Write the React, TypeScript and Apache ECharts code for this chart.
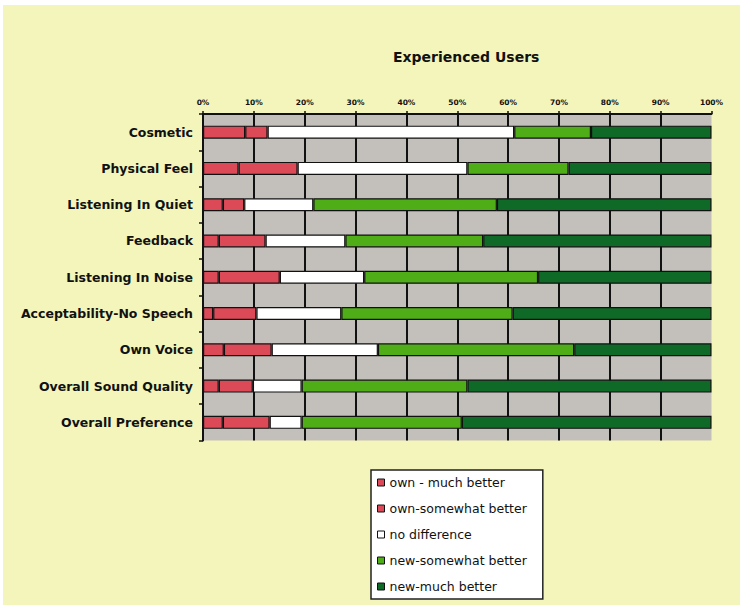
import React, { useEffect, useRef } from 'react';
import * as echarts from 'echarts';

const categories = [
  'Cosmetic',
  'Physical Feel',
  'Listening In Quiet',
  'Feedback',
  'Listening In Noise',
  'Acceptability-No Speech',
  'Own Voice',
  'Overall Sound Quality',
  'Overall Preference',
];
const ownMuchBetter = [8.3, 7.0, 3.9, 3.1, 3.1, 2.0, 4.1, 3.1, 3.9];
const ownSomewhatBetter = [4.4, 11.6, 4.2, 9.2, 12.0, 8.5, 9.4, 6.7, 9.2];
const noDifference = [48.5, 33.4, 13.6, 15.7, 16.6, 16.7, 20.9, 9.6, 6.3];
const newSomewhatBetter = [15.1, 19.9, 36.1, 27.1, 34.2, 33.7, 38.6, 32.6, 31.5];
const newMuchBetter = [23.7, 28.1, 42.2, 44.9, 34.1, 39.1, 27.0, 48.0, 49.1];
const seriesNames = [
  'own - much better',
  'own-somewhat better',
  'no difference',
  'new-somewhat better',
  'new-much better',
];
const seriesColors = ['#dc4a58', '#dc4a58', '#ffffff', '#4fae18', '#0e6a26'];
const chartTitle = 'Experienced Users';

export default function App() {
  const ref = useRef<HTMLDivElement>(null);
  useEffect(() => {
    document.body.style.margin = '0';
    const chart = echarts.init(ref.current!, null, { renderer: 'svg' });
    const values = [ownMuchBetter, ownSomewhatBetter, noDifference, newSomewhatBetter, newMuchBetter];
    const font = '"DejaVu Sans", Verdana, sans-serif';
    chart.setOption({
      animation: false,
      backgroundColor: '#f4f5bb',
      title: {
        text: chartTitle,
        left: 385,
        top: 40,
        textStyle: { fontFamily: font, fontWeight: 'bold', fontSize: 14, color: '#111' },
      },
      grid: {
        left: 200,
        right: 28.5,
        top: 109,
        bottom: 164.5,
        show: true,
        backgroundColor: '#c3bfbb',
        borderWidth: 0,
      },
      legend: {
        orient: 'vertical',
        left: 368,
        top: 465,
        data: seriesNames,
        icon: 'rect',
        backgroundColor: '#ffffff',
        borderColor: '#222',
        borderWidth: 1.5,
        padding: [6, 16, 6, 6],
        itemWidth: 7,
        itemHeight: 7,
        itemGap: 13,
        itemStyle: { borderColor: '#111', borderWidth: 1 },
        textStyle: { fontFamily: font, fontSize: 12.5, color: '#111', lineHeight: 13 },
        selectedMode: false,
      },
      xAxis: {
        type: 'value',
        position: 'top',
        min: 0,
        max: 100,
        interval: 10,
        axisLine: { show: true, lineStyle: { color: '#111', width: 2 } },
        axisTick: { show: true, length: 3, lineStyle: { color: '#111', width: 1.5 } },
        axisLabel: {
          formatter: '{value}%',
          fontFamily: font,
          fontWeight: 'bold',
          fontSize: 7.5,
          color: '#111',
          margin: 8,
        },
        splitLine: { show: true, showMaxLine: false, lineStyle: { color: '#111', width: 2 } },
      },
      yAxis: {
        type: 'category',
        data: categories,
        inverse: true,
        axisLine: { show: true, lineStyle: { color: '#111', width: 2 } },
        axisTick: { show: true, length: 4, lineStyle: { color: '#111', width: 1.5 } },
        axisLabel: {
          fontFamily: font,
          fontWeight: 'bold',
          fontSize: 12.5,
          color: '#111',
          margin: 10,
        },
        splitLine: { show: false },
      },
      series: seriesNames.map((name, i) => ({
        name,
        type: 'bar',
        stack: 'total',
        barWidth: 13,
        data: values[i],
        itemStyle: { color: seriesColors[i], borderColor: '#111', borderWidth: 1.2 },
      })),
    });
    return () => chart.dispose();
  }, []);
  return (
    <div style={{ width: 743, height: 609, background: '#ffffff', position: 'relative' }}>
      <div
        ref={ref}
        style={{ position: 'absolute', left: 3, top: 5, width: 737, height: 600 }}
      />
    </div>
  );
}
